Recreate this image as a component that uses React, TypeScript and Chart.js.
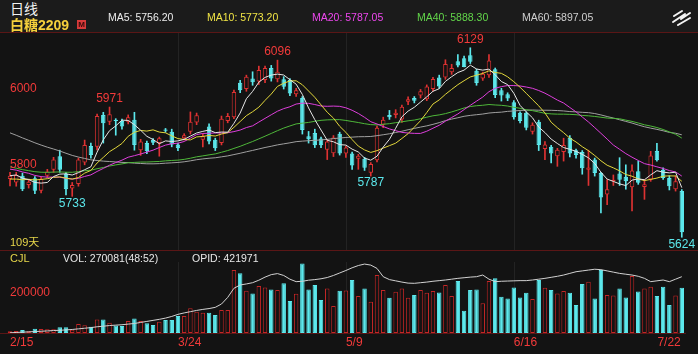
import React, { useEffect, useRef } from 'react';
import { Chart, registerables } from 'chart.js';

Chart.register(...registerables);

// ---------- data ----------
const opens = [
  5779, 5770, 5788, 5763, 5781, 5748, 5788, 5804, 5840, 5793,
  5754, 5766, 5823, 5867, 5865, 5950, 5932, 5937, 5934, 5932,
  5937, 5856, 5875, 5884, 5875, 5911, 5905, 5871, 5888, 5905,
  5930, 5884, 5919, 5884, 5875, 5934, 5944, 6036, 6019, 6047,
  6039, 6043, 6075, 6045, 6045, 6043, 6005, 5995, 5893, 5902,
  5887, 5857, 5848, 5900, 5847, 5847, 5833, 5833, 5796, 5829,
  5924, 5950, 5950, 5938, 5985, 5995, 6002, 5992, 6019, 6050,
  6050, 6064, 6093, 6101, 6109, 6068, 6047, 6056, 6072, 6016,
  6005, 5984, 5956, 5956, 5905, 5932, 5859, 5865, 5840, 5851,
  5889, 5856, 5851, 5804, 5831, 5795, 5738, 5773, 5794, 5785,
  5757, 5800, 5758, 5778, 5854, 5804, 5782, 5752, 5747,
];
const highs = [
  5797, 5797, 5795, 5778, 5786, 5785, 5805, 5837, 5856, 5797,
  5770, 5835, 5883, 5875, 5952, 5957, 5971, 5940, 5939, 5950,
  5957, 5885, 5880, 5887, 5891, 5914, 5912, 5875, 5900, 5958,
  5955, 5899, 5926, 5888, 5947, 5954, 6016, 6042, 6056, 6065,
  6080, 6080, 6082, 6096, 6052, 6047, 6021, 5999, 5906, 5912,
  5891, 5885, 5895, 5904, 5867, 5851, 5845, 5837, 5823, 5920,
  5944, 5962, 5964, 5976, 5998, 5999, 6018, 6030, 6050, 6056,
  6097, 6085, 6111, 6107, 6129, 6072, 6064, 6111, 6075, 6021,
  6009, 5988, 5958, 5958, 5929, 5936, 5879, 5869, 5861, 5888,
  5895, 5859, 5855, 5856, 5835, 5797, 5778, 5790, 5836, 5817,
  5817, 5827, 5778, 5853, 5874, 5809, 5788, 5788, 5751,
];
const lows = [
  5761, 5760, 5748, 5755, 5740, 5742, 5783, 5797, 5797, 5737,
  5733, 5760, 5817, 5835, 5857, 5875, 5924, 5896, 5912, 5926,
  5856, 5842, 5847, 5871, 5840, 5904, 5865, 5855, 5883, 5899,
  5924, 5865, 5873, 5855, 5870, 5929, 5940, 6009, 6013, 6029,
  6031, 6036, 6040, 6038, 6019, 6001, 5999, 5899, 5875, 5863,
  5863, 5831, 5839, 5843, 5837, 5805, 5805, 5802, 5787, 5825,
  5916, 5938, 5942, 5930, 5977, 5982, 5995, 5988, 6013, 6021,
  6045, 6058, 6078, 6078, 6087, 6029, 6042, 6050, 5996, 5987,
  5988, 5939, 5929, 5910, 5899, 5855, 5831, 5822, 5813, 5827,
  5838, 5835, 5792, 5762, 5787, 5689, 5711, 5762, 5762, 5752,
  5694, 5765, 5725, 5773, 5827, 5778, 5750, 5747, 5624,
];
const closes = [
  5788, 5790, 5752, 5772, 5748, 5779, 5799, 5831, 5804, 5752,
  5763, 5831, 5870, 5843, 5947, 5928, 5952, 5934, 5919, 5944,
  5870, 5879, 5853, 5876, 5888, 5908, 5871, 5861, 5896, 5932,
  5949, 5893, 5879, 5861, 5940, 5947, 6011, 6016, 6052, 6037,
  6070, 6075, 6047, 6065, 6025, 6007, 6016, 5910, 5885, 5869,
  5869, 5879, 5890, 5847, 5863, 5815, 5841, 5809, 5819, 5916,
  5937, 5944, 5956, 5972, 5992, 5988, 6013, 6026, 6046, 6026,
  6086, 6075, 6082, 6078, 6092, 6035, 6060, 6095, 6003, 6002,
  5994, 5944, 5934, 5916, 5924, 5870, 5871, 5847, 5857, 5870,
  5847, 5843, 5808, 5810, 5795, 5730, 5752, 5777, 5777, 5773,
  5802, 5769, 5765, 5842, 5829, 5782, 5760, 5773, 5637,
];
// closes of the 59 sessions before the first visible candle (moving-average warm-up)
const priorCloses = [
  6175, 6168, 6160, 6150, 6142, 6135, 6128, 6120, 6112, 6105, 6096, 6093,
  6070, 6048, 6030, 6015, 6000, 5990, 5975, 5960,
  5930, 5905, 5880, 5860, 5835, 5815, 5800, 5790, 5780, 5770,
  5765, 5772, 5785, 5790, 5800, 5795, 5810, 5815, 5820, 5835,
  5840, 5850, 5845, 5860, 5842, 5830, 5825, 5815, 5810, 5802,
  5790, 5770, 5760, 5765, 5765, 5780, 5795, 5790, 5787,
];
const volumes = [
  11000, 12000, 18000, 11000, 26000, 24000, 23000, 22000, 34000, 34000,
  20000, 54000, 46000, 38000, 81000, 81000, 61000, 44000, 42000, 71000,
  87000, 71000, 58000, 48000, 67000, 77000, 77000, 101000, 101000, 147000,
  127000, 121000, 121000, 107000, 137000, 137000, 375000, 356000, 252000, 236000,
  280000, 272000, 260000, 256000, 296000, 191000, 234000, 415000, 260000, 286000,
  197000, 266000, 161000, 252000, 254000, 316000, 220000, 266000, 187000, 346000,
  256000, 210000, 246000, 266000, 210000, 226000, 256000, 240000, 250000, 242000,
  286000, 220000, 310000, 133000, 256000, 260000, 177000, 310000, 326000, 216000,
  206000, 272000, 212000, 240000, 203000, 316000, 270000, 256000, 236000, 250000,
  240000, 167000, 292000, 306000, 206000, 375000, 226000, 224000, 266000, 212000,
  340000, 248000, 266000, 276000, 220000, 276000, 167000, 224000, 270081,
];
const openInterest = [
  151000, 152500, 154000, 155500, 157000, 158500, 160000, 162000, 163000, 165000,
  167000, 170000, 173000, 176000, 180000, 183000, 186000, 188000, 190000, 193000,
  196000, 201000, 206000, 211000, 216000, 222000, 230000, 240000, 247000, 253000,
  259000, 264000, 268000, 274000, 290000, 322000, 366000, 382000, 387000, 393000,
  405000, 420000, 432000, 437000, 428000, 410000, 398000, 400000, 405000, 408000,
  412000, 418000, 428000, 440000, 452000, 465000, 476000, 483000, 478000, 462000,
  422000, 408000, 402000, 396000, 391000, 390000, 393000, 396000, 400000, 403000,
  406000, 410000, 414000, 417000, 420000, 422000, 430000, 410000, 398000, 400000,
  401000, 402000, 403000, 403000, 406000, 410000, 414000, 419000, 424000, 430000,
  438000, 446000, 450000, 454000, 458000, 456000, 450000, 444000, 438000, 434000,
  430000, 424000, 414000, 398000, 402000, 406000, 398000, 410000, 421971,
];
const dateTickIdx = [0, 27, 54, 81, 108];
const dateTickLabels = ['2/15', '3/24', '5/9', '6/16', '7/22'];
const gridIdx = [27, 54, 81];
const priceTicks = [6000, 5800];
const volumeTicks = [200000];
const highMarks = [16, 43, 74];
const lowMarks = [10, 58, 108];
const maPeriods = [5, 10, 20, 40, 60];
const maLineColors = ['#e6e6e6', '#e3d83c', '#de3fdc', '#4fb83a', '#a0a0a0'];
const maTextColors = ['#ececec', '#f0e445', '#ee47ee', '#62d64a', '#cfcfcf'];
const maValues = ['5756.20', '5773.20', '5787.05', '5888.30', '5897.05'];
const maTextX = [108, 207, 312, 417, 522];

// ---------- styles ----------
const BG = '#131313';
const HEADER_BG = '#1b1b1b';
const UP = '#de3232';
const VOL_UP = '#c42626';
const DOWN = '#5ce8ec';
const LABEL_RED = '#f23a3a';
const DIVIDER = '#5a1616';
const FONT = '"Liberation Sans", Arial, "Noto Sans CJK SC", sans-serif';
const PRICE_MIN = 5590;
const PRICE_MAX = 6171;
const PAD_L = 6.9;
const PAD_R = 13.1;

const categories = closes.map((_, i) => String(i));
const isUp = (i: number) => closes[i] >= opens[i];

function movingAverage(n: number): number[] {
  const all = priorCloses.concat(closes);
  const off = priorCloses.length;
  return closes.map((_, i) => {
    let s = 0;
    for (let k = 0; k < n; k++) s += all[off + i - k];
    return s / n;
  });
}

const gridPlugin = {
  id: 'gridLines',
  beforeDatasetsDraw(chart: any) {
    const { ctx, chartArea, scales } = chart;
    ctx.save();
    ctx.strokeStyle = 'rgba(255,255,255,0.07)';
    ctx.lineWidth = 1;
    for (const idx of gridIdx) {
      const x = Math.round(scales.x.getPixelForValue(idx)) + 0.5;
      ctx.beginPath();
      ctx.moveTo(x, chartArea.top);
      ctx.lineTo(x, chartArea.bottom);
      ctx.stroke();
    }
    ctx.restore();
  },
};

const priceLabels = {
  id: 'priceLabels',
  afterDraw(chart: any) {
    const { ctx, scales } = chart;
    ctx.save();
    ctx.font = `12px ${FONT}`;
    ctx.textBaseline = 'middle';
    ctx.textAlign = 'left';
    ctx.fillStyle = LABEL_RED;
    for (const v of priceTicks) ctx.fillText(String(v), 10, scales.y.getPixelForValue(v) - 7);
    ctx.textAlign = 'center';
    for (const i of highMarks) {
      ctx.fillStyle = LABEL_RED;
      ctx.fillText(String(highs[i]), scales.x.getPixelForValue(i), scales.y.getPixelForValue(highs[i]) - 8);
    }
    for (const i of lowMarks) {
      ctx.fillStyle = DOWN;
      ctx.fillText(String(lows[i]), scales.x.getPixelForValue(i), scales.y.getPixelForValue(lows[i]) + 7);
    }
    ctx.restore();
  },
};

const volumeLabels = {
  id: 'volumeLabels',
  afterDraw(chart: any) {
    const { ctx, scales, chartArea } = chart;
    ctx.save();
    ctx.font = `12px ${FONT}`;
    ctx.textBaseline = 'middle';
    ctx.fillStyle = LABEL_RED;
    ctx.textAlign = 'left';
    for (const v of volumeTicks) ctx.fillText(String(v), 10, scales.yv.getPixelForValue(v) - 7);
    dateTickIdx.forEach((idx, k) => {
      const x = scales.x.getPixelForValue(idx);
      const last = k === dateTickIdx.length - 1;
      ctx.textAlign = last ? 'right' : 'left';
      ctx.fillText(dateTickLabels[k], last ? x - 1 : x, chartArea.bottom + 9.5);
    });
    ctx.restore();
  },
};

function priceConfig(): any {
  const maSets = maPeriods.map((n, k) => ({
    type: 'line',
    label: `MA${n}`,
    data: movingAverage(n),
    borderColor: maLineColors[k],
    borderWidth: 1,
    pointRadius: 0,
    tension: 0,
    order: k,
  }));
  return {
    type: 'bar',
    data: {
      labels: categories,
      datasets: [
        ...maSets,
        {
          label: 'body',
          data: opens.map((o, i) => [o, closes[i]]),
          backgroundColor: closes.map((_, i) => (isUp(i) ? BG : DOWN)),
          borderColor: closes.map((_, i) => (isUp(i) ? UP : DOWN)),
          borderWidth: 1,
          borderSkipped: false,
          grouped: false,
          barPercentage: 0.72,
          categoryPercentage: 1,
          order: 10,
        },
        {
          label: 'wick',
          data: lows.map((l, i) => [l, highs[i]]),
          backgroundColor: closes.map((_, i) => (isUp(i) ? UP : DOWN)),
          borderWidth: 0,
          grouped: false,
          barThickness: 1,
          order: 11,
        },
      ],
    },
    options: {
      responsive: false,
      maintainAspectRatio: false,
      animation: false,
      devicePixelRatio: 1,
      events: [],
      layout: { padding: { left: PAD_L, right: PAD_R, top: 0, bottom: 0 } },
      scales: {
        x: { display: false, offset: true },
        y: { display: false, min: PRICE_MIN, max: PRICE_MAX },
      },
      plugins: { legend: { display: false }, tooltip: { enabled: false } },
    },
    plugins: [gridPlugin, priceLabels],
  };
}

function volumeConfig(): any {
  return {
    type: 'bar',
    data: {
      labels: categories,
      datasets: [
        {
          type: 'line',
          label: 'OPI',
          data: openInterest,
          yAxisID: 'yo',
          borderColor: '#d2d2d2',
          borderWidth: 1,
          pointRadius: 0,
          tension: 0,
          order: 0,
        },
        {
          label: 'VOL',
          data: volumes,
          yAxisID: 'yv',
          backgroundColor: closes.map((_, i) => (isUp(i) ? BG : DOWN)),
          borderColor: closes.map((_, i) => (isUp(i) ? VOL_UP : DOWN)),
          borderWidth: 1,
          borderSkipped: false,
          barPercentage: 0.72,
          categoryPercentage: 1,
          order: 1,
        },
      ],
    },
    options: {
      responsive: false,
      maintainAspectRatio: false,
      animation: false,
      devicePixelRatio: 1,
      events: [],
      layout: { padding: { left: PAD_L, right: PAD_R, top: 0, bottom: 21 } },
      scales: {
        x: { display: false, offset: true },
        yv: { display: false, min: 0, max: 423300 },
        yo: { display: false, min: 150000, max: 493000 },
      },
      plugins: { legend: { display: false }, tooltip: { enabled: false } },
    },
    plugins: [gridPlugin, volumeLabels],
  };
}

const abs = (left: number, top: number, extra: React.CSSProperties = {}): React.CSSProperties => ({
  position: 'absolute',
  left,
  top,
  whiteSpace: 'nowrap',
  ...extra,
});

export default function App() {
  const priceRef = useRef<HTMLCanvasElement>(null);
  const volRef = useRef<HTMLCanvasElement>(null);

  useEffect(() => {
    document.body.style.margin = '0';
    document.body.style.background = BG;
    const pc = new Chart(priceRef.current as HTMLCanvasElement, priceConfig());
    const vc = new Chart(volRef.current as HTMLCanvasElement, volumeConfig());
    return () => {
      pc.destroy();
      vc.destroy();
    };
  }, []);

  return (
    <div
      style={{
        position: 'fixed',
        left: 0,
        top: 0,
        width: 698,
        height: 354,
        background: BG,
        overflow: 'hidden',
        fontFamily: FONT,
      }}
    >
      <div style={abs(0, 0, { width: 698, height: 32, background: HEADER_BG })} />
      <canvas
        ref={priceRef}
        width={698}
        height={218}
        style={{ position: 'absolute', left: 0, top: 32, width: 698, height: 218 }}
      />
      <canvas
        ref={volRef}
        width={698}
        height={92}
        style={{ position: 'absolute', left: 0, top: 262, width: 698, height: 92 }}
      />
      {/* dividers */}
      <div style={abs(0, 32, { width: 698, height: 1, background: DIVIDER })} />
      <div style={abs(0, 250, { width: 698, height: 1, background: DIVIDER })} />
      <div style={abs(0, 333, { width: 686, height: 1, background: DIVIDER })} />

      {/* header */}
      <div style={abs(10, 1, { fontSize: 14, lineHeight: '16px', color: '#f2f2f2' })}>日线</div>
      <div style={abs(10, 17, { fontSize: 14, lineHeight: '16px', color: '#f5d03c', fontWeight: 'bold' })}>白糖2209</div>
      <div
        style={abs(77, 20, {
          width: 9,
          height: 9,
          background: '#d83a3a',
          color: '#3a0a0a',
          fontSize: 8,
          lineHeight: '9px',
          fontWeight: 'bold',
          textAlign: 'center',
        })}
      >
        M
      </div>
      {maPeriods.map((n, k) => (
        <div
          key={n}
          style={abs(maTextX[k], 11, { fontSize: 10.5, lineHeight: '12px', color: maTextColors[k] })}
        >
          {`MA${n}: ${maValues[k]}`}
        </div>
      ))}
      <svg style={abs(670, 7)} width={24} height={22} viewBox="0 0 24 22">
        <path
          d="M4 9 L12 4 M3 15 L15 7 L11 12 L20 6 M8 18 L20 11"
          stroke="#f4f4f4"
          strokeWidth={2}
          fill="none"
          strokeLinecap="round"
          strokeLinejoin="round"
        />
      </svg>

      {/* volume panel captions */}
      <div style={abs(10, 235, { fontSize: 11, lineHeight: '14px', color: '#e6d64a' })}>109天</div>
      <div style={abs(10, 251, { fontSize: 11, lineHeight: '14px', color: '#e6d64a' })}>CJL</div>
      <div style={abs(63, 251, { fontSize: 10.5, lineHeight: '14px', color: '#e8e8e8' })}>
        VOL: 270081(48:52)
      </div>
      <div style={abs(192, 251, { fontSize: 10.5, lineHeight: '14px', color: '#e8e8e8' })}>OPID: 421971</div>
    </div>
  );
}
